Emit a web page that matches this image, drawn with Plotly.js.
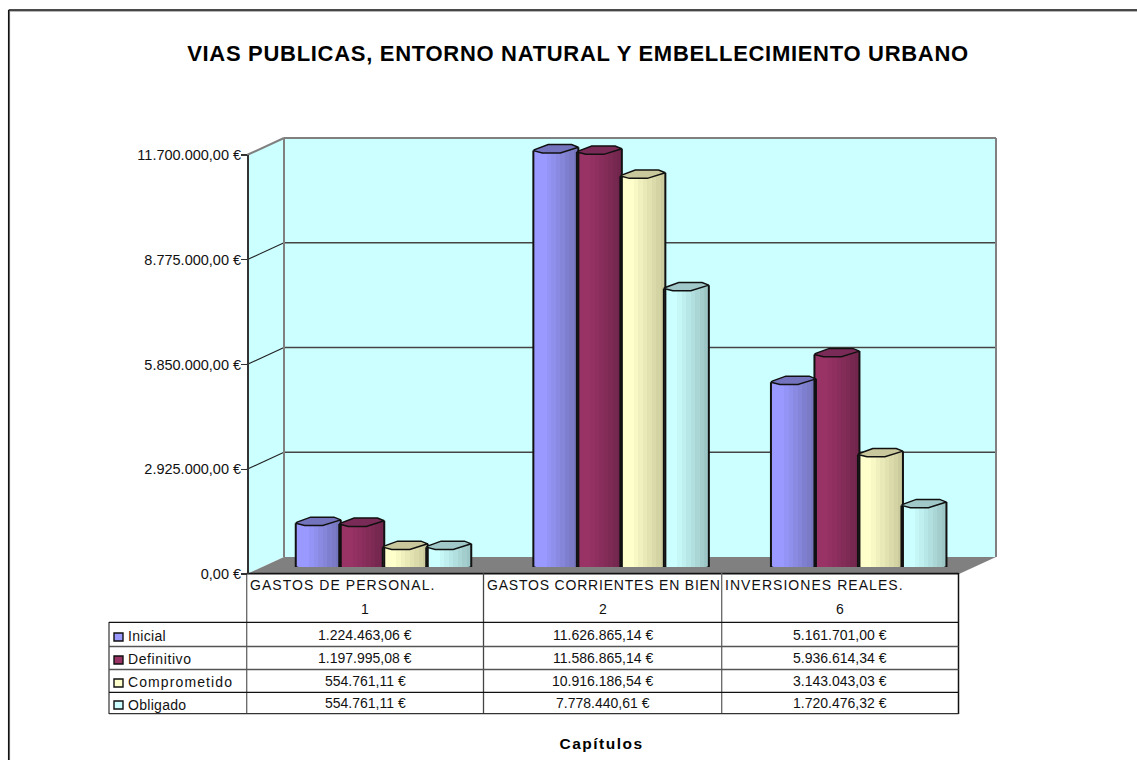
<!DOCTYPE html>
<html>
<head>
<meta charset="utf-8">
<script src="https://cdn.plot.ly/plotly-3.0.1.min.js"></script>
<style>
html,body{margin:0;padding:0;background:#fff;overflow:hidden}
.gtitle{letter-spacing:.7px}
.xtitle{letter-spacing:1.5px}
</style>
</head>
<body>
<div id="chart" style="width:1137px;height:760px"></div>
<script>
const chartTitle = "VIAS PUBLICAS, ENTORNO NATURAL Y EMBELLECIMIENTO URBANO";
const xTitle = "Capítulos";
const categories = ["GASTOS DE PERSONAL.", "GASTOS CORRIENTES EN BIEN", "INVERSIONES REALES."];
const chapters = ["1", "2", "6"];
const seriesNames = ["Inicial", "Definitivo", "Comprometido", "Obligado"];
const inicial = [1224463.06, 11626865.14, 5161701.00];
const definitivo = [1197995.08, 11586865.14, 5936614.34];
const comprometido = [554761.11, 10916186.54, 3143043.03];
const obligado = [554761.11, 7778440.61, 1720476.32];
const tickValues = [0, 2925000, 5850000, 8775000, 11700000];

const lightColors = [[153,153,255],[153,51,102],[255,255,204],[204,255,255]];
const darkColors = [[112,112,180],[108,36,74],[196,196,150],[150,190,190]];
const capColors = ['#7474BE','#7A2A56','#C8C89C','#A0C8C8'];
const swatchColors = ['#9999FF','#993366','#FFFFCC','#CCFFFF'];
const allSeries = [inicial, definitivo, comprometido, obligado];

const W = 1137, H = 760;
const px = x => x / W, py = y => 1 - y / H;
const FONT = '"Liberation Sans", Arial, sans-serif';
const yMax = tickValues[tickValues.length - 1];
const barPxPerVal = 419 / yMax;
const pitchPx = 237.6, x0Px = 383.5;
const dataX = p => (p - x0Px) / pitchPx;
const barW = 45 / pitchPx, barStep = 43.5 / pitchPx;
const pxToVal = p => p / barPxPerVal;
const fmt = v => v.toFixed(2).replace('.', ',').replace(/\B(?=(\d{3})+(?!\d))/g, '.') + ' €';
const mix = (a, b, t) => `rgb(${a.map((c, i) => Math.round(c + (b[i] - c) * t)).join(',')})`;

const traces = [];
// keeps the tick axis alive
traces.push({type: 'scatter', x: [0], y: [0], yaxis: 'y', xaxis: 'x', mode: 'none', hoverinfo: 'skip', showlegend: false});

const N = 10, dropPx = 2.6, riseRight = 3.3;
allSeries.forEach((vals, s) => {
  const left = cat => cat + (s - 2) * barStep - (barW - barStep) / 2;
  for (let k = 0; k < N; k++) {
    const tu = (k + 0.5) / N, tc = tu * 2 - 1;
    const drop = pxToVal(dropPx) * Math.sqrt(1 - tc * tc);
    const rise = pxToVal(riseRight) * Math.max(0, (tu - 0.5) * 2);
    const shade = k < N * 0.2 ? 0 : (k - N * 0.2) / (N * 0.8);
    traces.push({
      type: 'bar', yaxis: 'y2', xaxis: 'x',
      x: vals.map((_, c) => c),
      y: vals.map(v => v + drop + rise),
      base: vals.map(() => -drop),
      width: barW / N * 1.04,
      offset: vals.map((_, c) => left(c) - c + k * barW / N),
      marker: {color: mix(lightColors[s], darkColors[s], shade), line: {width: 0}},
      name: seriesNames[s], showlegend: false, hoverinfo: 'skip'
    });
  }
  vals.forEach((v, c) => {
    const x0 = left(c), x1 = x0 + barW;
    const ox = [x0], oy = [v];
    for (let i = 0; i <= 12; i++) {
      const t = i / 12;
      ox.push(x0 + t * barW);
      oy.push(-pxToVal(dropPx) * Math.sqrt(1 - (2 * t - 1) * (2 * t - 1)));
    }
    ox.push(x1); oy.push(v + pxToVal(riseRight));
    traces.push({type: 'scatter', mode: 'lines', yaxis: 'y2', xaxis: 'x', x: ox, y: oy,
      line: {color: '#111', width: 2}, hoverinfo: 'skip', showlegend: false, cliponaxis: false});
    const capT = [0, 0.03, 0.33, 0.85, 1, 0.6, 0.2, 0];
    const capP = [0, 1, 6, 6, riseRight, -2.3, -2.3, 0];
    traces.push({type: 'scatter', mode: 'lines', yaxis: 'y2', xaxis: 'x', fill: 'toself',
      fillcolor: capColors[s],
      x: capT.map(t => x0 + t * barW), y: capP.map(p => v + pxToVal(p)),
      line: {color: '#111', width: 1.5}, hoverinfo: 'skip', showlegend: false, cliponaxis: false});
  });
});

const backY = v => 557 - v / yMax * 419;
const frontY = v => 574 - v / yMax * 419;
const poly = (pts, fill, extra) => Object.assign({
  type: 'path', xref: 'paper', yref: 'paper', layer: 'below', fillcolor: fill, line: {width: 0},
  path: 'M' + pts.map(p => px(p[0]) + ',' + py(p[1])).join('L') + 'Z'}, extra || {});
const seg = (x0, y0, x1, y1, color, width) => ({type: 'line', xref: 'paper', yref: 'paper', layer: 'below',
  x0: px(x0), y0: py(y0), x1: px(x1), y1: py(y1), line: {color, width}});

const shapes = [
  seg(9.6, 11.2, 9.6, 760, '#999', 1),
  seg(9.6, 11.2, 1137, 11.2, '#999', 1),
  seg(8.7, 10, 8.7, 760, '#111', 1.5),
  seg(8.7, 10, 1137, 10, '#111', 1.5),
  poly([[284, 138], [996, 138], [996, 557], [284, 557]], '#CCFFFF'),
  poly([[247, 155], [284, 138], [284, 557], [247, 574]], '#CCFFFF'),
  poly([[247, 574], [284, 557], [996, 557], [959, 574]], '#808080')
];
tickValues.forEach((v, i) => {
  if (i === 0) return;
  const top = i === tickValues.length - 1;
  const c = top ? '#808080' : '#444', w = top ? 2 : 1.4;
  shapes.push(seg(284, backY(v), 996, backY(v), c, w));
  shapes.push(seg(247, frontY(v), 284, backY(v), top ? '#808080' : '#222', top ? 2 : 1.1));
});
shapes.push(seg(284, 138, 284, 557, '#808080', 2));
shapes.push(seg(996, 138, 996, 557, '#808080', 2));

// data table
const colX = [246.7, 483.5, 721.7, 958.5];
const rowY = [622.3, 646.5, 669.5, 692.3, 713.7];
const rowCol = ['#111', '#555', '#555', '#111', '#333'];
shapes.push(seg(246.7, 573.6, 958.5, 573.6, '#111', 1.6));
colX.forEach((x, i) => shapes.push(seg(x, 573, x, 714, i === 3 ? '#111' : (i === 1 ? '#444' : '#666'), i === 3 ? 1.5 : 1.3)));
shapes.push(seg(109, 622, 109, 714, '#333', 1.2));
rowY.forEach((y, i) => shapes.push(seg(109, y, 958.5, y, rowCol[i], i === 1 || i === 2 ? 1.5 : 1.2)));
const swatchY = [637, 660, 683, 705];
seriesNames.forEach((n, s) => shapes.push(Object.assign(
  poly([[114, swatchY[s] - 4], [123, swatchY[s] - 4], [123, swatchY[s] + 4], [114, swatchY[s] + 4]], swatchColors[s]),
  {line: {color: '#111', width: 1.4}})));

const ann = (x, y, text, anchor, extra) => Object.assign({
  xref: 'paper', yref: 'paper', x: px(x), y: py(y), text, showarrow: false,
  xanchor: anchor, yanchor: 'middle', align: anchor, font: {family: FONT, size: 14, color: '#111'},
  borderpad: 0, borderwidth: 0}, extra || {});
const annotations = [];
categories.forEach((c, i) => {
  annotations.push(ann(colX[i] + 3.5, 585, c, 'left'));
  annotations.push(ann((colX[i] + colX[i + 1]) / 2, 609, chapters[i], 'center'));
});
const labelY = [636, 659, 682, 705], valueY = [635, 658, 681, 703];
seriesNames.forEach((n, s) => {
  annotations.push(ann(128, labelY[s], n, 'left'));
  allSeries[s].forEach((v, c) => annotations.push(ann((colX[c] + colX[c + 1]) / 2, valueY[s], fmt(v), 'center')));
});

const layout = {
  width: W, height: H, margin: {l: 0, r: 0, t: 0, b: 0},
  paper_bgcolor: '#fff', plot_bgcolor: 'rgba(0,0,0,0)',
  showlegend: false, barmode: 'overlay', bargap: 0,
  font: {family: FONT, color: '#111'},
  title: {text: chartTitle, x: 578 / W, xanchor: 'center', y: py(53), yanchor: 'middle', font: {family: FONT, size: 22, color: '#000', weight: 'bold'}},
  xaxis: {domain: [px(207), px(996)], range: [dataX(207), dataX(996)], showticklabels: false, ticks: '', showgrid: false, zeroline: false, showline: false, anchor: 'y',
    title: {text: '<b>' + xTitle + '</b>', standoff: 164, font: {family: FONT, size: 15.5, color: '#000'}}},
  yaxis: {domain: [py(574), py(155)], range: [0, yMax], tickmode: 'array', tickvals: tickValues,
    ticktext: tickValues.map(fmt), ticks: 'outside', ticklen: 6, tickcolor: '#333', tickwidth: 1.2,
    showline: true, linecolor: '#333', linewidth: 1.5, showgrid: false, zeroline: false,
    tickfont: {family: FONT, size: 14.5, color: '#111'}, anchor: 'free', position: px(247), ticklabelstandoff: -3},
  yaxis2: {domain: [py(567), py(130)], range: [0, pxToVal(567 - 130)], visible: false, anchor: 'x', showgrid: false, zeroline: false},
  shapes, annotations
};
const spacing = {"GASTOS DE PERSONAL.": 1.05, "GASTOS CORRIENTES EN BIEN": 0.8, "INVERSIONES REALES.": 1.05,
  "Inicial": 0.3, "Definitivo": 0.6, "Comprometido": 1.1, "Obligado": 0.3};
Plotly.newPlot('chart', traces, layout, {displayModeBar: false, staticPlot: true}).then(() => {
  document.querySelectorAll('.annotation-text').forEach(t => {
    const sp = spacing[t.textContent];
    if (sp) t.style.letterSpacing = sp + 'px';
  });
});
</script>
</body>
</html>
